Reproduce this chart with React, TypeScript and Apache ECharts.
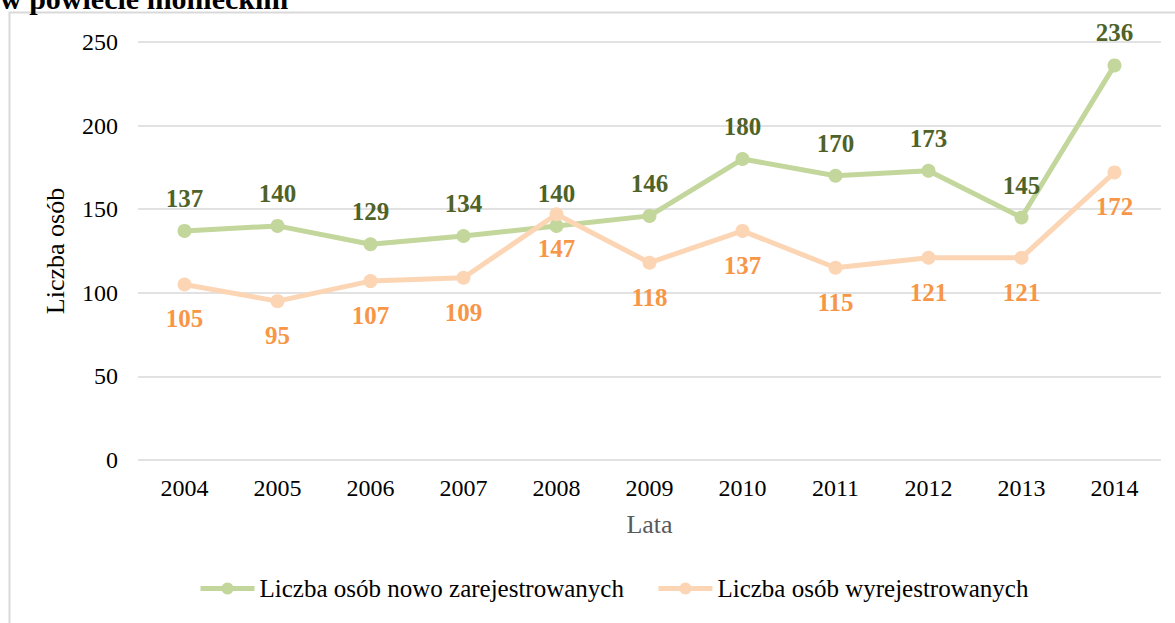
import React, { useEffect, useRef } from "react";
import * as echarts from "echarts";

const years = ["2004", "2005", "2006", "2007", "2008", "2009", "2010", "2011", "2012", "2013", "2014"];
const registered = [137, 140, 129, 134, 140, 146, 180, 170, 173, 145, 236];
const deregistered = [105, 95, 107, 109, 147, 118, 137, 115, 121, 121, 172];
const seriesNames = ["Liczba osób nowo zarejestrowanych", "Liczba osób wyrejestrowanych"];
const titleText = "w powiecie monieckim";

const FONT = "Liberation Serif";

export default function App() {
  const ref = useRef<HTMLDivElement>(null);
  useEffect(() => {
    if (!ref.current) return;
    const chart = echarts.init(ref.current, null, { renderer: "svg" });
    chart.setOption({
      animation: false,
      backgroundColor: "#ffffff",
      textStyle: { fontFamily: FONT },
      graphic: [
        {
          type: "rect",
          shape: { x: 9.5, y: 12.5, width: 1300, height: 800 },
          style: { fill: "none", stroke: "#d9d9d9", lineWidth: 2 },
          silent: true,
        },
        {
          type: "text",
          x: 0,
          y: 13,
          style: {
            text: titleText,
            fontFamily: FONT,
            fontSize: 30,
            fontWeight: "bold",
            fill: "#000000",
            verticalAlign: "bottom",
            align: "left",
          },
        },
      ],
      grid: { left: 138, right: 14, top: 42, bottom: 163, containLabel: false },
      legend: {
        bottom: 17,
        left: 193,
        itemWidth: 54,
        itemHeight: 15,
        itemGap: 32,
        lineStyle: { width: 5 },
        textStyle: { fontFamily: FONT, fontSize: 25, color: "#000000" },
        data: seriesNames,
      },
      xAxis: {
        type: "category",
        data: years,
        boundaryGap: true,
        name: "Lata",
        nameLocation: "middle",
        nameGap: 51,
        nameTextStyle: { fontFamily: FONT, fontSize: 26, color: "#595959" },
        axisLine: { show: false },
        axisTick: { show: false },
        axisLabel: { fontFamily: FONT, fontSize: 24, color: "#000000", margin: 16 },
      },
      yAxis: {
        type: "value",
        min: 0,
        max: 250,
        interval: 50,
        name: "Liczba osób",
        nameLocation: "middle",
        nameGap: 70,
        nameTextStyle: { fontFamily: FONT, fontSize: 26, color: "#000000" },
        axisLine: { show: false },
        axisTick: { show: false },
        axisLabel: { fontFamily: FONT, fontSize: 24, color: "#000000", margin: 20 },
        splitLine: { lineStyle: { color: "#d9d9d9", width: 1.5 } },
      },
      series: [
        {
          name: seriesNames[0],
          type: "line",
          data: registered,
          symbol: "circle",
          symbolSize: 14,
          color: "#C3D69B",
          lineStyle: { width: 5, color: "#C3D69B" },
          itemStyle: { color: "#C3D69B" },
          label: {
            show: true,
            position: "top",
            distance: 13,
            fontFamily: FONT,
            fontSize: 25,
            fontWeight: "bold",
            color: "#4F6228",
          },
        },
        {
          name: seriesNames[1],
          type: "line",
          data: deregistered,
          symbol: "circle",
          symbolSize: 14,
          color: "#FCD5B4",
          lineStyle: { width: 5, color: "#FCD5B4" },
          itemStyle: { color: "#FCD5B4" },
          label: {
            show: true,
            position: "bottom",
            distance: 15,
            fontFamily: FONT,
            fontSize: 25,
            fontWeight: "bold",
            color: "#F79646",
          },
        },
      ],
    });
    return () => chart.dispose();
  }, []);
  return (
    <div
      ref={ref}
      style={{ position: "fixed", left: 0, top: 0, width: 1175, height: 623 }}
    />
  );
}
